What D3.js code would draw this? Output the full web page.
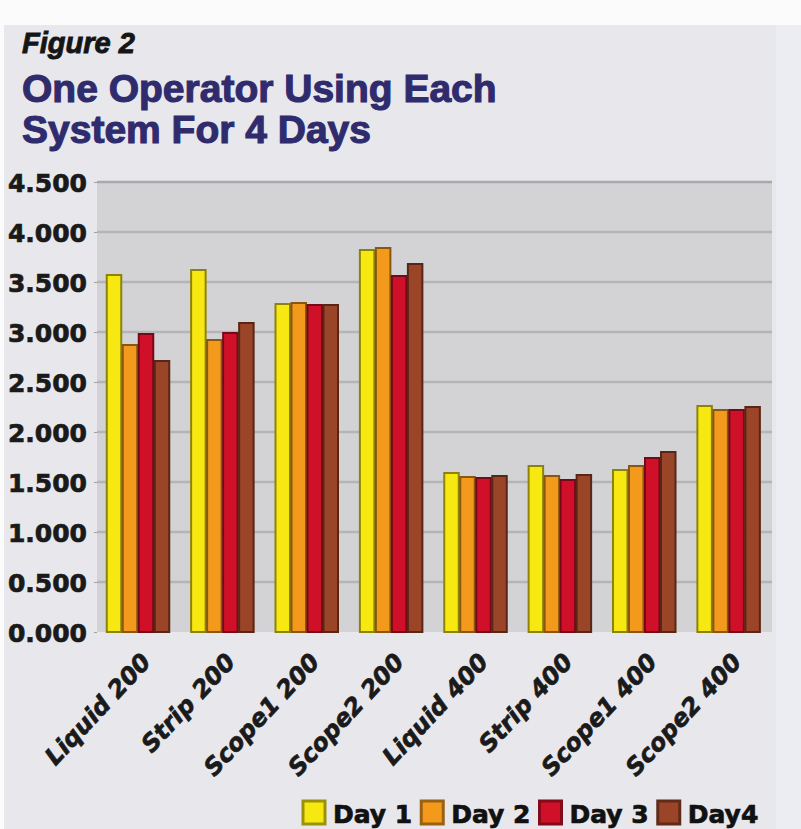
<!DOCTYPE html>
<html>
<head>
<meta charset="utf-8">
<script src="https://cdn.jsdelivr.net/npm/d3@7"></script>
<style>
  html, body { margin: 0; padding: 0; background: #ffffff; }
  svg { display: block; }
</style>
</head>
<body>
<svg id="chart" width="801" height="829"></svg>
<script>
// ---- data ----
const categories = ["Liquid 200", "Strip 200", "Scope1 200", "Scope2 200",
                    "Liquid 400", "Strip 400", "Scope1 400", "Scope2 400"];
const seriesNames = ["Day 1", "Day 2", "Day 3", "Day4"];
const day1 = [3.57, 3.62, 3.28, 3.82, 1.59, 1.66, 1.62, 2.26];
const day2 = [2.87, 2.92, 3.29, 3.84, 1.55, 1.56, 1.66, 2.22];
const day3 = [2.98, 2.99, 3.27, 3.56, 1.54, 1.52, 1.74, 2.22];
const day4 = [2.71, 3.09, 3.27, 3.68, 1.56, 1.57, 1.80, 2.25];
const yTicks = [0, 0.5, 1, 1.5, 2, 2.5, 3, 3.5, 4, 4.5];
const colors = ["#f7e812", "#f39a1c", "#cf1028", "#9a4428"];
const seriesValues = [day1, day2, day3, day4];

// ---- layout ----
const svg = d3.select("#chart");
const W = 801, H = 829;
const plot = { left: 97, right: 772, top: 182, bottom: 632 };

// background
svg.append("rect").attr("x", 0).attr("y", 0).attr("width", W).attr("height", H).attr("fill", "#fbfbfb");
svg.append("rect").attr("x", 4).attr("y", 25).attr("width", W - 4).attr("height", H - 25).attr("fill", "#e7e7ec");
svg.append("rect").attr("x", 776).attr("y", 25).attr("width", W - 776).attr("height", H - 25).attr("fill", "#ececf3");

// titles
svg.append("text").attr("x", 22).attr("y", 53)
  .attr("font-family", "'Liberation Sans', Arial, sans-serif")
  .attr("font-weight", "bold").attr("font-style", "italic")
  .attr("font-size", 29).attr("fill", "#151515")
  .attr("stroke", "#151515").attr("stroke-width", 0.9)
  .text("Figure 2");
const titleLines = ["One Operator Using Each", "System For 4 Days"];
svg.selectAll("text.title").data(titleLines).enter().append("text")
  .attr("class", "title")
  .attr("x", 22).attr("y", (d, i) => 102 + i * 41)
  .attr("font-family", "'Liberation Sans', Arial, sans-serif")
  .attr("font-weight", "bold").attr("font-size", 39)
  .attr("fill", "#2f2b6d").attr("stroke", "#2f2b6d").attr("stroke-width", 1.1)
  .text(d => d);

// scales
const y = d3.scaleLinear().domain([0, 4.5]).range([plot.bottom, plot.top]);
const x0 = d3.scaleBand().domain(categories).range([plot.left, plot.right]).padding(0);
const x1 = d3.scaleBand().domain(seriesNames).range([9, 73]).padding(0);

// plot area
svg.append("rect").attr("x", plot.left).attr("y", plot.top)
  .attr("width", plot.right - plot.left).attr("height", plot.bottom - plot.top)
  .attr("fill", "#d3d3d5");

// gridlines
svg.append("g").selectAll("line").data(yTicks.filter(t => t > 0)).enter().append("line")
  .attr("x1", plot.left).attr("x2", plot.right)
  .attr("y1", d => y(d)).attr("y2", d => y(d))
  .attr("stroke", d => d === 4.5 ? "#a9a9ab" : "#b5b5b7").attr("stroke-width", 2.5);

// y axis (labels only)
const yAxis = d3.axisLeft(y).tickValues(yTicks).tickFormat(d3.format(".3f")).tickSize(3).tickPadding(8);
const gy = svg.append("g").attr("transform", `translate(${plot.left},0)`).call(yAxis);
gy.select(".domain").remove();
gy.selectAll(".tick line").attr("stroke", "#a0a0a0");
gy.selectAll(".tick text")
  .attr("font-family", "'DejaVu Sans', sans-serif")
  .attr("font-weight", "bold").attr("font-size", 25)
  .attr("fill", "#1a1a1a").attr("stroke", "#1a1a1a").attr("stroke-width", 0.7)
  .attr("x", -10).attr("dy", "0.36em");

// bars
const groups = svg.append("g").selectAll("g").data(categories).enter().append("g")
  .attr("transform", d => `translate(${x0(d)},0)`);
groups.selectAll("rect").data((c, ci) => seriesNames.map((s, si) => ({ s, si, v: seriesValues[si][ci] })))
  .enter().append("rect")
  .attr("x", d => x1(d.s) + 0.75)
  .attr("y", d => y(d.v))
  .attr("width", x1.bandwidth() - 1.5)
  .attr("height", d => y(0) - y(d.v))
  .attr("fill", d => colors[d.si])
  .attr("stroke", d => d3.color(colors[d.si]).darker(1.6))
  .attr("stroke-width", 2);

// x labels
svg.append("g").selectAll("text").data(categories).enter().append("text")
  .attr("transform", d => `translate(${x0(d) + x0.bandwidth() / 2 + 13},663) rotate(-47)`)
  .attr("text-anchor", "end")
  .attr("font-family", "'DejaVu Sans', sans-serif")
  .attr("font-weight", "bold").attr("font-style", "italic")
  .attr("font-size", 24).attr("fill", "#1a1a1a")
  .attr("stroke", "#1a1a1a").attr("stroke-width", 0.7)
  .text(d => d);

// legend
const legend = svg.append("g");
let lx = 303;
seriesNames.forEach((name, i) => {
  legend.append("rect").attr("x", lx).attr("y", 801).attr("width", 22).attr("height", 23)
    .attr("fill", colors[i]).attr("stroke", d3.color(colors[i]).darker(1.3)).attr("stroke-width", 3);
  const t = legend.append("text").attr("x", lx + 30).attr("y", 823)
    .attr("font-family", "'DejaVu Sans', sans-serif")
    .attr("font-weight", "bold").attr("font-size", 25).attr("fill", "#111")
    .attr("stroke", "#111").attr("stroke-width", 0.7)
    .text(name);
  lx = lx + 30 + t.node().getComputedTextLength() + 9;
});
</script>
</body>
</html>
